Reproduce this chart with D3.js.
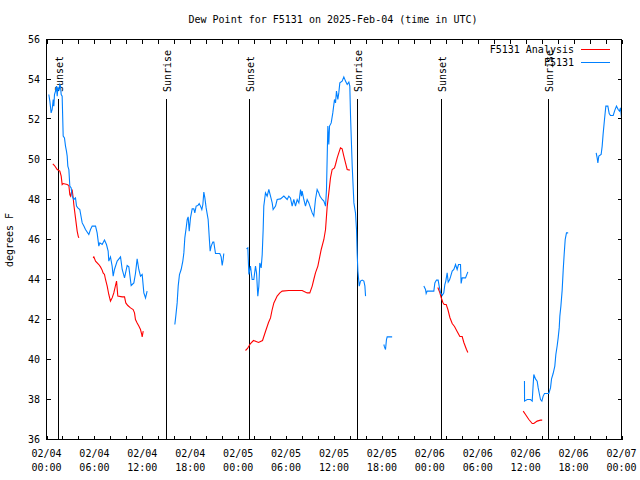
<!DOCTYPE html>
<html><head><meta charset="utf-8">
<script src="https://cdn.jsdelivr.net/npm/d3@7"></script>
<style>
body{margin:0;background:#fff;}
text{font-family:"DejaVu Sans Mono","Liberation Mono",monospace;font-size:10px;fill:#000;}
</style></head>
<body><svg id="c" width="640" height="480"></svg>
<script>
// hours since 2025-02-04 00:00 UTC; null = gap
const blueHours = [0.29,0.42,0.58,0.71,0.84,0.92,1.0,1.13,1.25,1.34,1.42,1.54,1.67,1.75,1.84,1.96,2.09,2.25,2.38,2.5,2.59,2.67,2.8,2.92,3.09,3.21,3.42,3.63,3.76,3.92,4.17,4.47,4.68,4.88,5.3,5.51,5.72,6.14,6.34,6.55,6.68,6.97,7.26,7.51,7.72,7.8,8.01,8.22,8.35,8.51,8.85,9.27,9.48,9.77,10.1,10.31,10.6,10.94,11.14,11.35,11.56,11.77,11.98,12.19,12.4,12.6,
 null,
 16.07,16.19,16.36,16.49,16.65,16.86,17.07,17.2,17.32,17.49,17.62,17.74,17.87,18.03,18.24,18.45,18.57,18.74,18.95,19.12,19.28,19.45,19.58,19.7,19.83,19.99,20.24,20.41,20.49,20.62,20.83,20.95,21.16,21.7,21.87,22.0,22.12,22.2,
 null,
 25.04,25.21,25.34,25.54,25.75,25.96,26.17,26.3,26.46,26.59,26.71,26.88,27.01,27.13,27.21,27.42,27.63,27.84,28.05,28.26,28.38,28.68,28.88,29.3,29.72,30.14,30.34,30.55,30.76,30.97,31.18,31.39,31.6,31.81,31.93,32.01,32.22,32.43,32.64,32.85,33.06,33.27,33.47,33.68,33.89,34.1,34.23,34.52,34.73,34.94,35.06,35.15,35.23,35.35,35.44,35.65,35.85,36.06,36.19,36.31,36.48,36.6,36.73,37.02,37.23,37.44,37.65,37.86,37.98,38.07,38.28,38.49,38.69,38.82,38.9,38.99,39.16,39.32,39.53,39.74,39.87,39.95,
 null,
 42.24,42.32,42.45,42.57,42.66,43.28,
 null,
 47.25,47.46,47.54,47.67,48.5,48.63,48.83,49.04,49.17,49.34,49.55,49.75,49.88,50.0,50.17,50.3,50.46,50.59,50.8,51.01,51.22,51.42,51.59,51.84,51.92,52.05,52.47,52.76,
 null,
 59.85,59.86,60.19,60.61,60.82,60.94,61.02,61.23,61.44,61.57,61.73,61.86,62.03,62.19,62.36,62.9,63.11,63.24,63.44,63.65,63.78,63.95,64.07,64.2,64.28,64.41,64.57,64.7,64.82,64.95,65.11,65.32,
 null,
 68.83,68.95,69.04,69.16,69.45,69.58,69.7,69.87,70.04,70.29,70.46,70.62,70.96,71.17,71.37,71.58,71.75,71.87,72.0];
const blueValues = [53.25,52.92,52.33,52.5,53.0,52.67,53.25,53.42,53.67,53.17,53.58,53.5,53.75,53.67,53.25,53.17,51.17,51.08,50.67,50.42,50.17,49.67,49.5,48.67,48.58,48.17,48.0,48.08,47.67,47.58,47.5,46.83,46.67,46.5,46.25,46.5,46.67,46.67,46.33,45.67,45.83,45.75,45.97,45.75,45.42,44.92,45.13,44.67,44.17,44.5,44.92,45.13,44.5,44.08,44.7,44.63,43.7,43.83,44.3,45.03,44.5,44.17,44.25,43.33,43.08,43.42,
 null,
 41.75,42.17,42.83,43.67,44.25,44.5,44.92,45.33,46.08,46.58,47.0,47.13,46.42,47.08,47.53,47.53,47.33,47.67,47.7,47.8,47.67,47.5,47.75,48.37,48.08,47.58,47.0,45.92,45.42,45.67,45.87,45.87,45.3,45.3,45.13,44.7,45.0,45.3,
 null,
 45.53,45.58,44.25,44.67,44.0,44.0,44.67,44.33,43.17,43.67,44.83,44.58,45.25,46.5,47.67,48.33,48.17,48.5,48.17,47.83,47.5,47.67,48.0,48.03,48.17,48.0,48.17,48.08,47.67,48.0,47.67,48.0,47.83,48.5,48.17,48.42,48.0,47.67,48.0,47.83,47.58,47.33,47.17,48.0,48.5,48.33,48.17,48.0,47.92,47.67,48.5,50.17,51.67,50.75,51.67,51.83,52.33,53.0,52.83,53.42,53.0,53.33,53.83,53.92,54.13,53.92,53.75,53.87,53.67,52.17,49.67,47.83,47.33,46.5,45.33,44.42,43.67,43.92,43.97,43.92,43.67,43.17,
 null,
 40.75,40.63,40.5,41.0,41.13,41.13,
 null,
 43.67,43.5,43.3,43.42,43.42,43.83,43.97,43.97,43.67,43.33,43.2,43.33,43.75,43.92,44.33,43.87,43.97,44.13,44.42,44.5,44.75,44.5,44.75,44.75,43.8,44.08,44.08,44.38,
 null,
 38.92,37.92,38.0,38.0,37.92,38.75,39.25,39.03,38.92,38.58,38.25,38.0,37.92,38.17,38.3,38.3,38.58,39.03,39.3,39.67,40.25,40.7,41.08,41.58,42.17,42.67,43.47,44.47,45.25,46.0,46.33,46.33,
 null,
 50.33,50.08,49.83,50.17,50.25,50.67,51.28,52.0,52.67,52.67,52.3,52.2,52.2,52.47,52.67,52.5,52.42,52.58,52.1];

const redHours = [0.79,1.0,1.34,1.67,1.84,1.96,2.09,2.59,2.8,2.92,3.01,3.21,3.34,3.42,3.63,3.84,3.97,4.05,
 null,
 5.84,5.93,6.14,6.55,6.76,6.97,7.09,7.26,7.39,7.6,7.8,8.01,8.22,8.43,8.64,8.77,8.93,9.48,9.77,9.93,10.18,10.52,10.85,11.02,11.14,11.35,11.56,11.77,11.9,11.98,12.11,
 null,
 24.92,25.17,25.54,25.92,26.55,27.05,27.42,27.8,28.05,28.26,28.47,28.68,28.88,29.22,29.51,30.34,32.01,32.64,32.97,33.27,33.47,33.68,33.98,34.23,34.4,34.73,34.94,35.06,35.15,35.35,35.56,35.77,36.06,36.19,36.4,36.6,36.81,37.02,37.23,37.44,37.65,37.98,
 null,
 49.0,49.25,49.42,49.63,49.8,50.05,50.26,50.51,50.8,51.09,51.42,51.76,52.05,52.26,52.59,52.76,
 null,
 59.69,59.98,60.4,60.82,61.02,61.44,61.86,62.07];
const redValues = [49.78,49.7,49.5,49.42,49.17,48.75,48.8,48.75,48.7,48.25,48.17,48.5,48.08,47.75,47.08,46.42,46.17,46.08,
 null,
 45.08,45.13,44.92,44.75,44.63,44.47,44.33,44.25,44.0,43.67,43.25,42.92,43.08,43.33,43.7,43.92,43.17,43.13,43.13,42.83,42.7,42.58,42.5,42.33,42.0,41.83,41.67,41.5,41.3,41.13,41.42,
 null,
 40.45,40.55,40.8,40.95,40.85,40.95,41.4,41.85,42.08,42.5,42.83,43.0,43.17,43.33,43.42,43.45,43.45,43.33,43.33,43.67,44.0,44.33,44.67,45.17,45.5,46.0,46.5,47.17,47.67,48.33,49.08,49.5,49.58,49.75,50.08,50.33,50.58,50.53,50.17,49.83,49.5,49.47,
 null,
 43.6,43.35,43.1,42.85,42.75,42.75,42.5,42.1,41.8,41.65,41.4,41.15,41.15,40.85,40.5,40.35,
 null,
 37.42,37.25,37.0,36.8,36.8,36.92,36.97,36.97];

const sunHours = [1.43, 15.0, 25.35, 38.92, 49.45, 62.85];
const sunLabels = ["Sunset","Sunrise","Sunset","Sunrise","Sunset","Sunrise"];
const yTicks = [36,38,40,42,44,46,48,50,52,54,56];
const seriesNames = ["F5131 Analysis","F5131"];
const seriesColors = ["#ff0000","#0080ff"];
const titleText = "Dew Point for F5131 on 2025-Feb-04 (time in UTC)";
const yLabel = "degrees F";

const base = Date.UTC(2025,1,4,0,0);
const toDate = h => new Date(base + h*3600000);

const svg = d3.select("#c");
const L=46.5, R=621.5, T=39.5, B=439.5;
const x = d3.scaleUtc().domain([toDate(0), toDate(72)]).range([L,R]);
const y = d3.scaleLinear().domain([36,56]).range([B,T]);

svg.append("rect").attr("width",640).attr("height",480).attr("fill","#fff");

// ticks
const g = svg.append("g").attr("shape-rendering","crispEdges").attr("stroke","#000");
const minorTicks = x.ticks(d3.utcHour.every(2));
minorTicks.forEach(d=>{
  const px = Math.round(x(d))+0.5;
  g.append("line").attr("x1",px).attr("x2",px).attr("y1",B).attr("y2",B-4);
  g.append("line").attr("x1",px).attr("x2",px).attr("y1",T).attr("y2",T+4);
});
yTicks.forEach(v=>{
  const py = Math.round(y(v))-0.5;
  g.append("line").attr("x1",L).attr("x2",L+4).attr("y1",py).attr("y2",py);
  g.append("line").attr("x1",R).attr("x2",R-4).attr("y1",py).attr("y2",py);
});

// y tick labels
yTicks.forEach(v=>{
  svg.append("text").attr("x",40).attr("y",y(v)).attr("text-anchor","end")
    .attr("dominant-baseline","central").text(v);
});
// x tick labels
const fmt1 = d3.utcFormat("%m/%d"), fmt2 = d3.utcFormat("%H:%M");
x.ticks(d3.utcHour.every(6)).forEach(d=>{
  const t = svg.append("text").attr("x",x(d)).attr("text-anchor","middle");
  t.append("tspan").attr("x",x(d)).attr("y",457).text(fmt1(d));
  t.append("tspan").attr("x",x(d)).attr("y",471).text(fmt2(d));
});

// sunrise/sunset
sunHours.forEach((h,i)=>{
  const px = Math.round(x(toDate(h)))+0.5;
  svg.append("line").attr("x1",px).attr("x2",px).attr("y1",99).attr("y2",B)
    .attr("stroke","#000").attr("stroke-width",1).attr("shape-rendering","crispEdges");
  svg.append("text").attr("transform",`translate(${px+4.5},92) rotate(-90)`)
    .attr("text-anchor","start").text(sunLabels[i]);
});

// data lines
function mk(hours, vals){ return hours.map((h,i)=>({t: h==null?null:toDate(h), v: vals[i]})); }
const line = d3.line().defined(d=>d.t!=null && d.v!=null).x(d=>x(d.t)).y(d=>y(d.v));
svg.append("path").datum(mk(redHours,redValues)).attr("d",line)
  .attr("fill","none").attr("stroke",seriesColors[0]).attr("stroke-width",1.1);
svg.append("path").datum(mk(blueHours,blueValues)).attr("d",line)
  .attr("fill","none").attr("stroke",seriesColors[1]).attr("stroke-width",1.1);

// border
svg.append("rect").attr("x",L).attr("y",T).attr("width",R-L).attr("height",B-T)
  .attr("fill","none").attr("stroke","#000").attr("shape-rendering","crispEdges");

// legend
seriesNames.forEach((n,i)=>{
  const ly = 49 + i*13;
  svg.append("text").attr("x",574).attr("y",ly).attr("text-anchor","end")
    .attr("dominant-baseline","central").text(n);
  svg.append("line").attr("x1",581).attr("x2",610).attr("y1",ly+0.5).attr("y2",ly+0.5)
    .attr("stroke",seriesColors[i]).attr("stroke-width",1);
});

// title & y label
svg.append("text").attr("x",333).attr("y",23).attr("text-anchor","middle").text(titleText);
svg.append("text").attr("transform","translate(13,240) rotate(-90)")
  .attr("text-anchor","middle").text(yLabel);
</script></body></html>
